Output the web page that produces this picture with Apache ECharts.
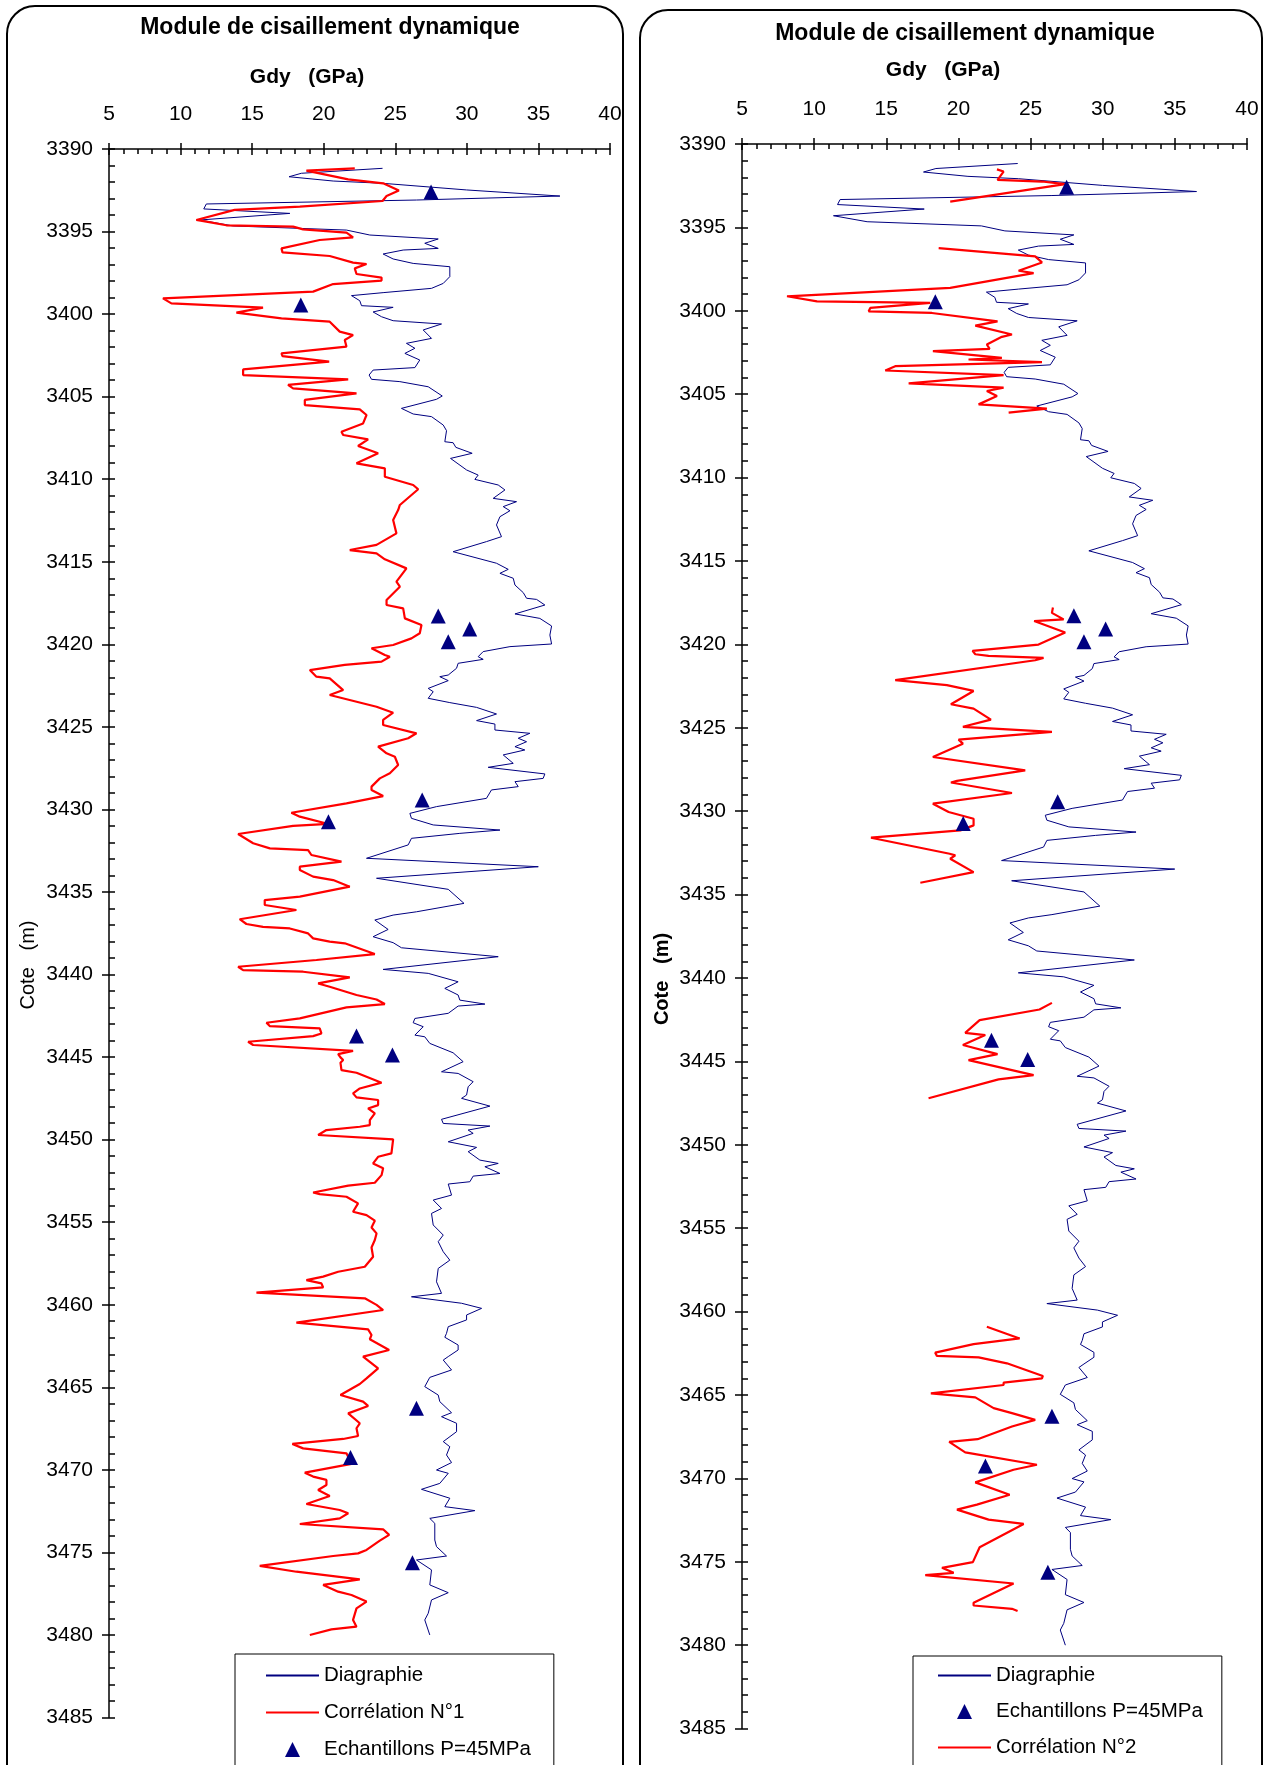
<!DOCTYPE html>
<html>
<head>
<meta charset="utf-8">
<script src="https://cdn.jsdelivr.net/npm/echarts@6/dist/echarts.min.js"></script>
<style>
  html, body { margin: 0; padding: 0; background: #fff; }
  #chart { width: 1273px; height: 1765px; }
</style>
</head>
<body>
<div id="chart"></div>
<script>
// Rows are [cote (m), Gdy (GPa)]

// Log-derived dynamic shear modulus
const diagraphie = [
  [3391.17,24.11],[3391.47,18.44],[3391.68,17.58],[3391.94,20.66],[3392.08,24.15],[3392.48,29.98],
  [3392.85,36.50],[3393.09,26.48],[3393.33,11.80],[3393.63,11.62],[3393.90,17.63],[3394.30,11.34],
  [3394.66,13.67],[3394.91,21.59],[3395.21,23.22],[3395.45,28.00],[3395.71,27.06],[3396.02,28.00],
  [3396.12,25.55],[3396.36,24.15],[3396.66,24.85],[3396.93,26.25],[3397.13,28.81],[3397.73,28.81],
  [3398.14,28.35],[3398.44,27.53],[3398.70,24.15],[3398.88,21.94],[3399.19,22.52],[3399.49,22.64],
  [3399.59,24.85],[3399.87,23.45],[3400.16,24.04],[3400.40,24.85],[3400.60,28.23],[3400.96,26.95],
  [3401.47,27.53],[3401.77,25.78],[3402.07,26.37],[3402.38,25.67],[3402.78,26.71],[3403.24,26.37],
  [3403.39,23.45],[3403.69,23.17],[3403.95,23.34],[3404.09,25.32],[3404.40,27.30],[3404.96,28.28],
  [3405.16,27.88],[3405.71,25.43],[3406.05,26.25],[3406.21,27.53],[3406.72,28.35],[3407.06,28.58],
  [3407.73,28.46],[3407.79,29.04],[3408.07,29.23],[3408.43,30.37],[3408.74,28.86],[3409.44,29.98],
  [3409.75,30.79],[3410.01,30.56],[3410.35,32.19],[3410.65,32.66],[3411.16,31.84],[3411.36,33.47],
  [3411.66,32.54],[3411.91,33.01],[3412.27,32.31],[3412.77,32.07],[3413.48,32.42],[3413.78,31.37],
  [3414.39,29.04],[3415.09,32.07],[3415.46,32.89],[3415.70,32.31],[3416.00,33.24],[3416.41,33.36],
  [3416.87,33.94],[3417.21,34.17],[3417.28,34.87],[3417.62,35.45],[3418.16,33.36],[3418.43,35.10],
  [3418.89,35.92],[3419.44,35.80],[3419.98,35.92],[3420.14,33.01],[3420.44,31.14],[3420.75,30.79],
  [3420.91,31.14],[3421.15,29.39],[3421.45,29.28],[3421.86,28.70],[3421.96,28.11],[3422.20,28.70],
  [3422.67,27.30],[3422.87,27.65],[3423.27,27.30],[3423.53,28.81],[3423.82,30.68],[3424.22,32.07],
  [3424.62,30.68],[3424.83,31.96],[3425.19,31.96],[3425.39,34.40],[3425.69,33.59],[3425.90,34.17],
  [3426.20,33.36],[3426.40,34.05],[3426.70,32.54],[3427.21,33.24],[3427.45,31.49],[3427.85,35.45],
  [3428.12,35.33],[3428.32,33.36],[3428.62,33.59],[3428.82,31.72],[3429.33,31.37],[3429.83,27.88],
  [3430.24,26.02],[3430.54,26.13],[3430.94,27.65],[3431.25,32.31],[3431.45,29.51],[3431.75,26.13],
  [3432.15,25.90],[3432.96,22.99],[3433.47,34.99],[3434.17,23.69],[3434.84,28.70],[3435.69,29.80],
  [3436.20,26.48],[3436.40,24.85],[3436.70,23.57],[3437.27,24.50],[3437.71,23.45],[3438.07,24.85],
  [3438.38,25.43],[3438.92,32.19],[3439.69,24.15],[3439.93,27.30],[3440.44,29.39],[3440.84,28.46],
  [3441.24,29.39],[3441.55,29.51],[3441.79,31.26],[3441.91,29.39],[3442.35,28.70],[3442.66,26.37],
  [3442.92,26.25],[3443.16,26.95],[3443.67,26.37],[3443.77,27.06],[3444.17,27.41],[3444.74,29.04],
  [3445.28,29.74],[3445.89,28.23],[3445.99,29.39],[3446.49,30.44],[3446.80,30.09],[3447.30,29.98],
  [3447.50,29.63],[3447.97,31.61],[3448.77,28.23],[3449.02,28.35],[3449.18,31.61],[3449.42,30.09],
  [3449.62,30.44],[3450.13,28.70],[3450.47,30.68],[3450.73,30.09],[3451.24,30.91],[3451.44,32.19],
  [3451.64,31.26],[3452.05,32.31],[3452.21,30.44],[3452.55,30.21],[3452.69,28.70],[3453.36,28.93],
  [3453.66,27.65],[3454.17,28.23],[3454.47,27.53],[3455.17,27.65],[3455.78,28.35],[3456.18,28.00],
  [3456.79,28.35],[3457.30,28.81],[3457.80,28.00],[3458.61,27.88],[3459.31,28.23],[3459.52,26.13],
  [3459.62,26.13],[3459.91,29.63],[3460.22,31.03],[3460.62,29.98],[3460.92,29.98],[3461.33,28.70],
  [3461.73,28.58],[3461.97,28.46],[3462.44,29.39],[3462.74,29.39],[3463.14,28.70],[3463.35,28.35],
  [3463.95,28.93],[3464.40,27.41],[3464.96,27.06],[3465.47,28.00],[3465.87,28.11],[3466.54,28.93],
  [3466.78,28.23],[3467.18,29.28],[3467.69,29.28],[3468.29,28.35],[3468.60,28.81],[3469.10,28.58],
  [3469.56,28.93],[3470.01,27.88],[3470.21,28.70],[3470.82,28.11],[3471.18,26.83],[3471.72,28.81],
  [3472.23,28.46],[3472.47,30.56],[3472.94,27.41],[3473.24,27.76],[3474.25,27.76],[3474.65,27.88],
  [3475.22,28.58],[3475.46,26.48],[3476.06,27.53],[3476.97,27.41],[3477.44,28.70],[3477.88,27.53],
  [3478.69,27.30],[3479.09,27.06],[3480.00,27.41]
];

// Correlation N°1, continuous over the whole interval
const correlation1 = [
  [3391.17,22.17],[3391.31,18.79],[3391.84,21.71],[3392.08,24.15],[3392.52,25.25],[3392.85,24.39],
  [3393.15,24.11],[3393.49,18.33],[3393.69,13.78],[3394.30,11.10],[3394.40,11.80],[3394.62,13.20],
  [3394.70,17.86],[3394.87,18.56],[3395.07,21.59],[3395.35,22.05],[3395.51,19.72],[3396.02,17.05],
  [3396.26,17.12],[3396.48,20.42],[3396.88,22.05],[3396.97,22.99],[3397.23,22.17],[3397.57,22.29],
  [3397.79,24.04],[3397.97,24.04],[3398.18,20.66],[3398.64,19.26],[3399.05,8.77],[3399.35,9.36],
  [3399.61,15.76],[3399.91,13.90],[3400.26,17.05],[3400.46,20.42],[3401.06,21.12],[3401.27,22.05],
  [3401.57,21.47],[3401.97,21.59],[3402.38,17.05],[3402.54,17.12],[3402.88,20.38],[3403.35,14.37],
  [3403.69,14.37],[3403.95,21.71],[3404.29,17.51],[3404.50,17.86],[3404.80,22.29],[3405.20,18.68],
  [3405.51,18.68],[3405.77,22.52],[3406.11,22.99],[3406.62,22.75],[3407.12,21.24],[3407.32,21.36],
  [3407.59,23.10],[3407.99,22.40],[3408.43,23.80],[3409.04,22.29],[3409.34,24.27],[3409.85,24.27],
  [3410.35,26.25],[3410.61,26.60],[3411.56,25.32],[3411.87,25.20],[3412.47,24.85],[3413.28,25.08],
  [3413.98,23.69],[3414.29,21.82],[3414.49,23.69],[3414.85,24.27],[3415.40,25.78],[3416.20,25.08],
  [3416.51,25.32],[3417.32,24.39],[3417.62,24.39],[3417.82,25.55],[3418.43,25.67],[3418.83,26.83],
  [3419.33,26.71],[3419.64,26.13],[3420.04,24.85],[3420.24,23.34],[3420.65,24.27],[3420.75,24.62],
  [3421.05,24.04],[3421.25,21.47],[3421.56,19.03],[3421.96,19.49],[3422.06,20.42],[3422.77,21.36],
  [3423.07,20.42],[3423.78,23.69],[3424.14,24.85],[3424.58,24.15],[3424.89,24.15],[3425.39,26.48],
  [3425.69,25.90],[3426.20,23.80],[3426.60,24.39],[3426.81,24.97],[3427.31,25.20],[3427.81,24.62],
  [3428.12,23.92],[3428.62,23.34],[3428.82,23.34],[3429.19,24.15],[3429.63,21.59],[3430.20,17.74],
  [3430.44,18.33],[3430.88,20.33],[3431.00,17.86],[3431.49,14.02],[3432.05,15.07],[3432.36,16.24],
  [3432.46,18.91],[3432.76,19.14],[3433.16,21.24],[3433.47,18.33],[3433.67,18.33],[3434.07,19.26],
  [3434.28,20.66],[3434.68,21.82],[3435.28,18.33],[3435.49,15.88],[3435.79,15.88],[3436.09,18.09],
  [3436.65,14.13],[3436.94,14.60],[3437.11,15.76],[3437.21,17.63],[3437.51,18.91],[3437.81,19.26],
  [3438.01,20.42],[3438.11,21.47],[3438.76,23.57],[3439.12,19.49],[3439.53,14.02],[3439.73,14.37],
  [3439.83,18.56],[3440.17,21.82],[3440.54,19.61],[3440.74,20.42],[3441.24,22.29],[3441.51,23.69],
  [3441.79,24.27],[3441.99,21.59],[3442.66,18.33],[3442.92,16.00],[3443.12,16.23],[3443.26,19.72],
  [3443.57,19.84],[3443.73,19.26],[3444.07,14.72],[3444.27,15.07],[3444.62,22.05],[3444.82,21.01],
  [3445.02,21.17],[3445.18,21.36],[3445.34,21.17],[3445.79,21.24],[3445.95,22.29],[3446.55,24.04],
  [3446.90,22.52],[3447.20,22.05],[3447.44,22.29],[3447.60,23.80],[3447.91,23.80],[3448.11,23.10],
  [3448.41,23.57],[3448.82,23.22],[3449.12,23.22],[3449.22,22.52],[3449.42,20.19],[3449.72,19.61],
  [3449.99,24.85],[3450.83,24.73],[3451.04,23.80],[3451.44,23.45],[3451.74,24.15],[3452.15,24.04],
  [3452.61,23.57],[3452.79,21.71],[3453.20,19.26],[3453.30,19.72],[3453.46,21.59],[3453.86,22.40],
  [3454.37,22.05],[3454.57,22.99],[3454.91,23.57],[3455.32,23.34],[3455.68,23.69],[3456.08,23.57],
  [3456.53,23.34],[3457.09,23.45],[3457.70,22.87],[3458.00,21.01],[3458.30,19.96],[3458.51,18.79],
  [3458.71,19.84],[3458.95,19.96],[3459.27,15.30],[3459.61,22.87],[3460.01,23.69],[3460.32,24.15],
  [3461.08,18.09],[3461.49,23.10],[3461.83,23.34],[3462.09,23.22],[3462.74,24.57],[3463.14,22.75],
  [3463.85,23.80],[3464.46,22.99],[3464.80,22.52],[3465.47,21.17],[3465.87,22.75],[3466.13,23.10],
  [3466.58,21.71],[3467.18,22.52],[3467.48,22.29],[3467.95,22.40],[3468.13,21.36],[3468.43,17.81],
  [3468.70,18.56],[3469.00,21.59],[3469.64,21.94],[3470.17,18.68],[3470.41,19.26],[3470.61,20.19],
  [3470.92,20.19],[3471.22,19.61],[3471.58,20.42],[3472.07,18.79],[3472.43,21.12],[3472.63,21.71],
  [3472.94,21.12],[3473.28,18.33],[3473.60,24.15],[3473.94,24.57],[3474.29,23.92],[3474.85,22.99],
  [3475.06,22.40],[3475.22,20.66],[3475.82,15.53],[3476.17,18.09],[3476.63,22.52],[3476.97,19.96],
  [3477.38,21.01],[3477.58,21.94],[3477.98,22.99],[3478.39,22.29],[3479.09,22.05],[3479.50,22.29],
  [3479.66,20.54],[3480.00,19.03]
];

// Correlation N°2, only defined over five intervals
const correlation2 = [
  [[3391.52,22.67],[3391.65,23.13],[3392.15,22.71],[3392.25,25.79],[3392.41,27.40],[3393.45,19.43]],
  [[3396.24,18.63],[3396.74,25.32],[3397.10,25.79],[3397.60,24.17],[3397.74,25.21],[3398.63,19.43],
   [3399.13,8.12],[3399.43,10.20],[3399.53,18.05],[3399.83,13.89],[3400.03,13.78],[3400.13,18.16],
   [3400.63,22.71],[3400.89,21.17],[3401.42,23.71],[3401.56,23.01],[3402.02,21.97],[3402.28,22.16],
   [3402.42,18.23],[3402.82,23.01],[3402.92,20.70],[3403.08,25.79],[3403.32,15.62],[3403.58,14.93],
   [3403.86,23.13],[3404.35,16.55],[3404.61,23.13],[3404.81,21.97],[3405.11,22.67],[3405.61,21.40],
   [3405.87,26.13],[3406.11,23.48]],
  [[3417.79,26.55],[3418.11,26.48],[3418.50,27.29],[3418.60,25.25],[3419.29,27.40],[3420.01,25.55],
   [3420.39,20.98],[3420.59,21.17],[3420.69,22.09],[3420.81,25.90],[3420.95,25.32],[3422.14,15.62],
   [3422.44,19.20],[3422.79,21.05],[3423.59,19.48],[3423.85,21.05],[3424.51,22.25],[3424.94,20.31],
   [3425.25,26.48],[3425.71,20.01],[3425.95,20.31],[3426.75,18.23],[3427.55,24.63],[3428.18,19.90],
   [3428.28,19.48],[3428.91,23.71],[3429.55,18.23],[3430.05,19.32],[3430.45,21.05],[3430.85,21.05],
   [3431.15,20.13],[3431.59,13.94],[3432.55,19.39],[3432.65,19.78],[3432.85,19.43],[3433.65,21.05],
   [3434.29,17.36]],
  [[3441.49,26.48],[3441.89,25.62],[3442.53,21.47],[3443.29,20.47],[3443.42,21.86],[3444.02,20.31],
   [3444.56,22.71],[3444.92,20.70],[3445.82,25.21],[3446.08,22.78],[3447.21,17.93]],
  [[3460.91,21.97],[3461.61,24.24],[3461.95,21.05],[3462.46,18.39],[3462.66,18.51],[3462.74,21.40],
   [3463.10,23.36],[3463.86,25.85],[3464.00,25.79],[3464.26,23.13],[3464.40,23.13],[3464.90,18.09],
   [3465.14,21.17],[3465.79,22.44],[3466.09,23.71],[3466.49,25.32],[3466.89,23.71],[3467.65,21.33],
   [3467.81,19.36],[3468.44,20.47],[3469.18,25.44],[3469.48,23.82],[3469.58,23.71],[3470.24,21.17],
   [3470.98,23.55],[3471.57,21.28],[3471.87,19.90],[3472.47,22.09],[3472.73,24.52],[3474.13,21.47],
   [3475.02,21.00],[3475.36,18.86],[3475.66,19.67],[3475.80,17.70],[3476.30,23.82],[3477.46,21.05],
   [3477.62,21.05],[3477.82,23.71],[3477.95,24.10]]
];

// Core samples tested at P = 45 MPa
const echantillons = [
  [3392.60,27.50],[3399.45,18.40],[3418.28,28.00],[3419.07,30.20],[3419.84,28.70],[3429.43,26.88],
  [3430.74,20.33],[3443.73,22.29],[3444.88,24.80],[3466.27,26.48],[3469.26,21.87],[3475.62,26.20]
];

const gdyRange = { min: 5, max: 40, step: 5 };
const coteRange = { min: 3390, max: 3485, step: 5 };

const FONT = '"Liberation Sans", Arial, Helvetica, sans-serif';
const NAVY = '#000080';
const RED = '#ff0000';
const TRIANGLE_ICON = 'path://M5,0L10,10L0,10Z';

const toXY = rows => rows.map(r => [r[1], r[0]]);
const joinSegments = segs => {
  const out = [];
  segs.forEach((s, i) => {
    if (i > 0) out.push(['-', '-']);
    toXY(s).forEach(p => out.push(p));
  });
  return out;
};

const panels = [
  { left: 109, top: 149, width: 501, height: 1568.5 },
  { left: 742, top: 144, width: 505, height: 1584.6 }
];

const axisLineStyle = { color: '#000', width: 1.5 };
const xAxes = [], yAxes = [];
panels.forEach((p, g) => {
  xAxes.push({
    gridIndex: g, type: 'value', position: 'top',
    min: gdyRange.min, max: gdyRange.max, interval: gdyRange.step,
    axisLine: { show: true, onZero: false, lineStyle: axisLineStyle },
    axisTick: { show: true, inside: false, length: 6, lineStyle: axisLineStyle },
    splitLine: { show: false },
    axisLabel: { color: '#000', fontSize: 21, fontFamily: FONT, margin: 24 }
  });
  // inward ticks along the same top edge
  xAxes.push({
    gridIndex: g, type: 'value', position: 'bottom', offset: -p.height,
    min: gdyRange.min, max: gdyRange.max, interval: gdyRange.step,
    axisLine: { show: false, onZero: false },
    axisTick: { show: true, inside: false, length: 6, lineStyle: axisLineStyle },
    minorTick: { show: true, splitNumber: 5, length: 5, lineStyle: axisLineStyle },
    splitLine: { show: false }, axisLabel: { show: false }
  });
  yAxes.push({
    gridIndex: g, type: 'value', position: 'left', inverse: true,
    min: coteRange.min, max: coteRange.max, interval: coteRange.step,
    axisLine: { show: true, onZero: false, lineStyle: axisLineStyle },
    axisTick: { show: true, inside: false, length: 7, lineStyle: axisLineStyle },
    splitLine: { show: false },
    axisLabel: { color: '#000', fontSize: 21, fontFamily: FONT, margin: 16,
      formatter: v => String(v) }
  });
  // inward ticks along the same left edge
  yAxes.push({
    gridIndex: g, type: 'value', position: 'right', offset: -p.width, inverse: true,
    min: coteRange.min, max: coteRange.max, interval: coteRange.step,
    axisLine: { show: false, onZero: false },
    axisTick: { show: true, inside: false, length: 6, lineStyle: axisLineStyle },
    minorTick: { show: true, splitNumber: 5, length: 6, lineStyle: axisLineStyle },
    splitLine: { show: false }, axisLabel: { show: false }
  });
});

const logSeries = (g) => ({
  name: 'Diagraphie', type: 'line', xAxisIndex: 2 * g, yAxisIndex: 2 * g,
  data: toXY(diagraphie), symbol: 'none', showSymbol: false,
  lineStyle: { color: NAVY, width: 1 }, itemStyle: { color: NAVY }, z: 2
});
const sampleSeries = (g) => ({
  name: 'Echantillons P=45MPa', type: 'scatter', xAxisIndex: 2 * g, yAxisIndex: 2 * g,
  data: toXY(echantillons), symbol: 'triangle', symbolSize: [15, 15],
  itemStyle: { color: NAVY, opacity: 1 }, z: 4
});

// legend entries: plain line for the curves, small triangle for the samples
const lineEntry = name => ({ name, itemStyle: { opacity: 0 } });
const sampleEntry = { name: 'Echantillons P=45MPa', icon: TRIANGLE_ICON };

const legendBase = {
  orient: 'vertical', itemWidth: 53, itemHeight: 15, itemGap: 16, height: 300,
  symbolKeepAspect: true,
  borderColor: '#000', borderWidth: 1, backgroundColor: '#fff',
  textStyle: { color: '#000', fontSize: 20.5, fontFamily: FONT, lineHeight: 20 },
  selectedMode: false
};

const option = {
  animation: false,
  backgroundColor: '#fff',
  grid: panels.map(p => ({ left: p.left, top: p.top, width: p.width, height: p.height, containLabel: false })),
  xAxis: xAxes,
  yAxis: yAxes,
  legend: [
    Object.assign({}, legendBase, {
      left: 235, top: 1654, padding: [11, 23, 40, 30],
      data: [lineEntry('Diagraphie'), lineEntry('Corrélation N°1'), sampleEntry]
    }),
    Object.assign({}, legendBase, {
      left: 913, top: 1656, padding: [9, 19, 40, 24], itemGap: 15,
      data: [lineEntry('Diagraphie'), sampleEntry, lineEntry('Corrélation N°2')]
    })
  ],
  series: [
    logSeries(0),
    {
      name: 'Corrélation N°1', type: 'line', xAxisIndex: 0, yAxisIndex: 0,
      data: toXY(correlation1), symbol: 'none', showSymbol: false,
      lineStyle: { color: RED, width: 2.2 }, itemStyle: { color: RED }, z: 3
    },
    sampleSeries(0),
    logSeries(1),
    sampleSeries(1),
    {
      name: 'Corrélation N°2', type: 'line', xAxisIndex: 2, yAxisIndex: 2,
      data: joinSegments(correlation2), symbol: 'none', showSymbol: false, connectNulls: false,
      lineStyle: { color: RED, width: 2.2 }, itemStyle: { color: RED }, z: 3
    }
  ],
  graphic: [
    { type: 'rect', shape: { x: 7, y: 6, width: 616, height: 1830, r: 28 },
      style: { fill: 'none', stroke: '#000', lineWidth: 2 }, z: 0 },
    { type: 'rect', shape: { x: 640, y: 10, width: 622, height: 1830, r: 28 },
      style: { fill: 'none', stroke: '#000', lineWidth: 2 }, z: 0 },
    { type: 'text', x: 330, y: 28, style: { text: 'Module de cisaillement dynamique', fill: '#000',
      font: 'bold 23px ' + FONT, textAlign: 'center', textVerticalAlign: 'middle' } },
    { type: 'text', x: 307, y: 77, style: { text: 'Gdy   (GPa)', fill: '#000',
      font: 'bold 21px ' + FONT, textAlign: 'center', textVerticalAlign: 'middle' } },
    { type: 'text', x: 965, y: 34, style: { text: 'Module de cisaillement dynamique', fill: '#000',
      font: 'bold 23px ' + FONT, textAlign: 'center', textVerticalAlign: 'middle' } },
    { type: 'text', x: 943, y: 70, style: { text: 'Gdy   (GPa)', fill: '#000',
      font: 'bold 21px ' + FONT, textAlign: 'center', textVerticalAlign: 'middle' } },
    { type: 'text', x: 28, y: 965, rotation: Math.PI / 2, style: { text: 'Cote   (m)', fill: '#000',
      font: '20px ' + FONT, textAlign: 'center', textVerticalAlign: 'middle' } },
    { type: 'text', x: 662, y: 979, rotation: Math.PI / 2, style: { text: 'Cote   (m)', fill: '#000',
      font: 'bold 20px ' + FONT, textAlign: 'center', textVerticalAlign: 'middle' } }
  ]
};

const chart = echarts.init(document.getElementById('chart'), null, { renderer: 'canvas' });
chart.setOption(option);
</script>
</body>
</html>
